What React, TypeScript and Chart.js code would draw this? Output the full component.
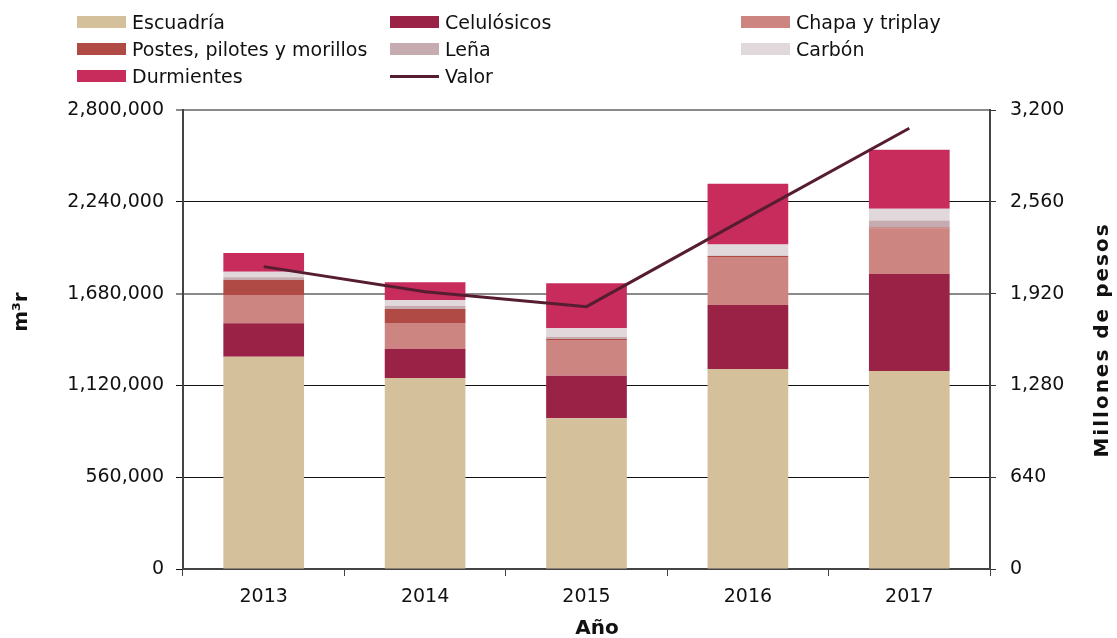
import React, { useEffect, useRef } from "react";
import { Chart, registerables } from "chart.js";
Chart.register(...registerables);

const years = ["2013", "2014", "2015", "2016", "2017"];
const escuadria = [1295000, 1165000, 919000, 1220000, 1208000];
const celulosicos = [204000, 179000, 260000, 390000, 592000];
const chapa = [173000, 157000, 218000, 293000, 277000];
const postes = [91000, 85000, 6000, 6000, 6000];
const lena = [17000, 20000, 14000, 3000, 43000];
const carbon = [34000, 35000, 51000, 68000, 71000];
const durmientes = [114000, 108000, 275000, 370000, 360000];
const valor = [2108, 1933, 1829, 2453, 3073];

const seriesLabels = ["Escuadría", "Celulósicos", "Chapa y triplay", "Postes, pilotes y morillos", "Leña", "Carbón", "Durmientes"];
const seriesColors = ["#D4C19C", "#9B2247", "#CC8581", "#AF4A44", "#C6ABB0", "#E0D8DA", "#C72C5C"];
const seriesData = [escuadria, celulosicos, chapa, postes, lena, carbon, durmientes];
const lineLabel = "Valor";
const lineColor = "#561D30";

const FONT = '"DejaVu Sans", sans-serif';
const fmt = (v: number) => Math.round(v).toLocaleString("en-US");

const titlesPlugin = {
  id: "titles",
  afterDraw(chart: any) {
    const ctx = chart.ctx;
    ctx.save();
    ctx.fillStyle = "#111";
    ctx.font = `bold 20px ${FONT}`;
    ctx.textAlign = "center";
    ctx.textBaseline = "middle";
    ctx.fillText("Año", 597, 629);
    ctx.save();
    ctx.translate(22, 312);
    ctx.rotate(-Math.PI / 2);
    ctx.fillText("m³r", 0, 0);
    ctx.restore();
    ctx.save();
    ctx.translate(1103, 340);
    ctx.rotate(-Math.PI / 2);
    try { (ctx as any).letterSpacing = "2px"; } catch (e) {}
    ctx.fillText("Millones de pesos", 0, 0);
    ctx.restore();
    ctx.restore();
  },
};

export default function App() {
  const ref = useRef<HTMLCanvasElement | null>(null);
  useEffect(() => {
    if (!ref.current) return;
    const barSets = seriesLabels.map((label, i) => ({
      type: "bar" as const,
      label,
      data: seriesData[i],
      backgroundColor: seriesColors[i],
      borderWidth: 0,
      yAxisID: "y",
      order: 1,
      barPercentage: 0.5,
      categoryPercentage: 1.0,
    }));
    const chart = new Chart(ref.current, {
      type: "bar",
      data: {
        labels: years,
        datasets: [
          ...barSets,
          {
            type: "line" as const,
            label: lineLabel,
            data: valor,
            borderColor: lineColor,
            backgroundColor: lineColor,
            borderWidth: 3,
            pointRadius: 0,
            tension: 0,
            yAxisID: "y1",
            order: 0,
          } as any,
        ],
      },
      options: {
        animation: false,
        responsive: false,
        devicePixelRatio: 1,
        layout: { padding: { top: 110, left: 0, right: 0, bottom: 0 } },
        plugins: { legend: { display: false }, tooltip: { enabled: false }, title: { display: false } },
        scales: {
          x: {
            stacked: true,
            offset: true,
            afterFit: (s: any) => { s.height = 69; },
            grid: { drawOnChartArea: false, offset: true, tickLength: 7, color: "#444", lineWidth: 1 },
            border: { display: true, color: "#444", width: 2 },
            ticks: { color: "#111", font: { family: FONT, size: 19 }, padding: 10 },
          },
          y: {
            stacked: true,
            position: "left",
            min: 0,
            max: 2800000,
            afterFit: (s: any) => { s.width = 183; },
            ticks: { stepSize: 560000, color: "#111", font: { family: FONT, size: 19 }, padding: 12, callback: (v: any) => fmt(Number(v)) },
            grid: {
              tickLength: 7,
              color: (c: any) => ([3, 5].includes(c.index) ? "#8a8a8a" : "#111"),
              lineWidth: (c: any) => ([3, 5].includes(c.index) ? 2 : 1),
            },
            border: { display: true, color: "#444", width: 2 },
          },
          y1: {
            stacked: false,
            position: "right",
            min: 0,
            max: 3200,
            afterFit: (s: any) => { s.width = 127; },
            ticks: { stepSize: 640, color: "#111", font: { family: FONT, size: 19 }, padding: 14, callback: (v: any) => fmt(Number(v)) },
            grid: { drawOnChartArea: false, tickLength: 6, color: "#333" },
            border: { display: true, color: "#444", width: 2 },
          },
        },
      } as any,
      plugins: [titlesPlugin],
    });
    return () => chart.destroy();
  }, []);

  const legendItems = [
    ...seriesLabels.map((l, i) => ({ label: l, color: seriesColors[i], line: false })),
    { label: lineLabel, color: lineColor, line: true },
  ];
  const colX = [77, 390, 741];
  const rowY = [22, 49, 76];

  return (
    <div style={{ position: "fixed", left: 0, top: 0, width: 1117, height: 638, background: "#fff" }}>
      <canvas ref={ref} width={1117} height={638} style={{ position: "absolute", left: 0, top: 0, width: 1117, height: 638 }} />
      {legendItems.map((it, i) => {
        const x = colX[i % 3];
        const y = rowY[Math.floor(i / 3)];
        return (
          <div key={it.label} style={{ position: "absolute", left: x, top: y - 12, height: 24, display: "flex", alignItems: "center", fontFamily: FONT, fontSize: 19, color: "#111", whiteSpace: "nowrap" }}>
            <span style={{ display: "inline-block", width: 49, height: it.line ? 3 : 12, background: it.color, marginRight: 6 }} />
            <span>{it.label}</span>
          </div>
        );
      })}
    </div>
  );
}
